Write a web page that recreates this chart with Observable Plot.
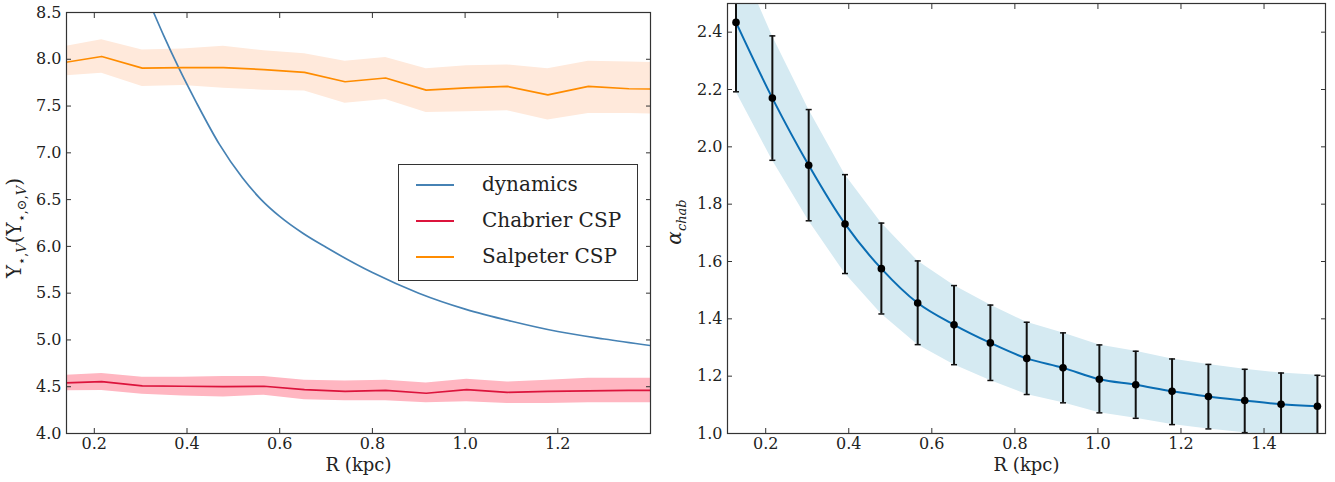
<!DOCTYPE html>
<html><head><meta charset="utf-8">
<script src="https://cdn.jsdelivr.net/npm/d3@7"></script>
<script src="https://cdn.jsdelivr.net/npm/@observablehq/plot@0.6"></script>
<style>
body{margin:0;background:#fff;}
#wrap{position:relative;width:1335px;height:482px;display:flex;}
#legend{position:absolute;left:398px;top:164px;width:240px;height:117px;border:1px solid #333;box-sizing:border-box;background:#fff;font-family:"DejaVu Serif","Liberation Serif","Noto Serif",serif;font-size:20px;color:#222;}
.row{position:absolute;left:0;height:30px;}
.sw{position:absolute;left:17px;width:38px;height:2px;}
.lt{position:absolute;left:83px;white-space:nowrap;line-height:30px;top:-16px;}
</style></head><body>
<div id="wrap"><div id="left"></div><div id="right"></div><div id="legend"></div></div>
<script>
// Radii (kpc)
const radius = [0.1285, 0.216, 0.3035, 0.391, 0.4785, 0.566, 0.6535, 0.741, 0.8285, 0.916, 1.0035, 1.091, 1.1785, 1.266, 1.3535, 1.441, 1.5285];

// Left panel: stellar M/L
const salpMid = [7.96, 8.03, 7.905, 7.91, 7.91, 7.89, 7.86, 7.76, 7.80, 7.67, 7.695, 7.71, 7.62, 7.71, 7.685, 7.68, 7.68];
const salpHi  = [8.13, 8.21, 8.10, 8.11, 8.14, 8.09, 8.06, 7.98, 8.02, 7.90, 7.93, 7.94, 7.90, 7.98, 7.97, 7.96, 7.96];
const salpLo  = [7.82, 7.85, 7.71, 7.72, 7.69, 7.67, 7.66, 7.53, 7.57, 7.43, 7.44, 7.45, 7.35, 7.42, 7.42, 7.41, 7.41];
const chabMid = [4.54, 4.555, 4.51, 4.505, 4.50, 4.505, 4.47, 4.45, 4.46, 4.43, 4.47, 4.44, 4.45, 4.455, 4.46, 4.46, 4.46];
const chabHi  = [4.62, 4.64, 4.60, 4.60, 4.61, 4.61, 4.57, 4.56, 4.57, 4.54, 4.58, 4.55, 4.57, 4.59, 4.59, 4.59, 4.59];
const chabLo  = [4.455, 4.46, 4.42, 4.40, 4.39, 4.41, 4.36, 4.35, 4.35, 4.33, 4.34, 4.32, 4.32, 4.33, 4.33, 4.33, 4.33];
const dynR    = [0.30, 0.328, 0.35, 0.382, 0.42, 0.47, 0.52, 0.56, 0.60, 0.65, 0.70, 0.80, 0.90, 1.00, 1.10, 1.20, 1.30, 1.40];
const dynV    = [8.83, 8.5, 8.25, 7.91, 7.54, 7.09, 6.73, 6.50, 6.32, 6.14, 5.99, 5.72, 5.50, 5.33, 5.20, 5.09, 5.01, 4.94];

// Right panel: alpha_chab
const alphaMid = [2.434, 2.170, 1.936, 1.731, 1.575, 1.455, 1.379, 1.316, 1.262, 1.229, 1.189, 1.170, 1.147, 1.129, 1.115, 1.102, 1.095];
const alphaHi  = [2.676, 2.387, 2.130, 1.903, 1.734, 1.602, 1.516, 1.448, 1.388, 1.351, 1.309, 1.287, 1.260, 1.241, 1.224, 1.211, 1.203];
const alphaLo  = [2.192, 1.953, 1.742, 1.558, 1.417, 1.310, 1.240, 1.185, 1.136, 1.107, 1.072, 1.053, 1.031, 1.016, 1.003, 0.990, 0.985];

// Ticks
const leftXTicks = [0.2, 0.4, 0.6, 0.8, 1.0, 1.2];
const leftYTicks = [4.0, 4.5, 5.0, 5.5, 6.0, 6.5, 7.0, 7.5, 8.0, 8.5];
const rightXTicks = [0.2, 0.4, 0.6, 0.8, 1.0, 1.2, 1.4];
const rightYTicks = [1.0, 1.2, 1.4, 1.6, 1.8, 2.0, 2.2, 2.4];

const legendItems = [
  {label: "dynamics", color: "#4682b4"},
  {label: "Chabrier CSP", color: "#dc143c"},
  {label: "Salpeter CSP", color: "#ff8c00"}
];

const salp = radius.map((r, i) => ({r, v: salpMid[i], lo: salpLo[i], hi: salpHi[i]}));
const chab = radius.map((r, i) => ({r, v: chabMid[i], lo: chabLo[i], hi: chabHi[i]}));
const dyn = dynR.map((r, i) => ({r, v: dynV[i]}));
const alpha = radius.map((r, i) => ({r, v: alphaMid[i], lo: alphaLo[i], hi: alphaHi[i]}));

const fmt = d3.format(".1f");
const font = "'DejaVu Serif', 'Liberation Serif', 'Noto Serif', serif";
const ink = "#222";

function axes(xt, yt) {
  const blank = () => "";
  return [
    Plot.axisX({ticks: xt, anchor: "bottom", tickSize: 0, tickPadding: 4, tickFormat: fmt, label: null, fontSize: 16}),
    Plot.axisX({ticks: xt, anchor: "bottom", tickSize: -5, tickFormat: blank, label: null, stroke: "#333"}),
    Plot.axisX({ticks: xt, anchor: "top", tickSize: -5, tickFormat: blank, label: null, stroke: "#333"}),
    Plot.axisY({ticks: yt, anchor: "left", tickSize: 0, tickPadding: 5, tickFormat: fmt, label: null, fontSize: 16}),
    Plot.axisY({ticks: yt, anchor: "left", tickSize: -5, tickFormat: blank, label: null, stroke: "#333"}),
    Plot.axisY({ticks: yt, anchor: "right", tickSize: -5, tickFormat: blank, label: null, stroke: "#333"}),
    Plot.frame({stroke: "#333", strokeWidth: 1.2})
  ];
}

const left = Plot.plot({
  width: 660, height: 482,
  marginLeft: 66, marginRight: 10, marginTop: 12, marginBottom: 49,
  style: {fontFamily: font, fontSize: "16px", color: ink, background: "white", overflow: "visible"},
  x: {domain: [0.14, 1.40]},
  y: {domain: [4.0, 8.5]},
  marks: [
    Plot.areaY(salp, {x: "r", y1: "lo", y2: "hi", fill: "#ffe9db", clip: true}),
    Plot.areaY(chab, {x: "r", y1: "lo", y2: "hi", fill: "#ffb6c1", clip: true}),
    Plot.line(dyn, {x: "r", y: "v", stroke: legendItems[0].color, strokeWidth: 1.7, curve: "monotone-x", clip: true}),
    Plot.line(chab, {x: "r", y: "v", stroke: legendItems[1].color, strokeWidth: 1.7, clip: true}),
    Plot.line(salp, {x: "r", y: "v", stroke: legendItems[2].color, strokeWidth: 1.7, clip: true}),
    ...axes(leftXTicks, leftYTicks),
    Plot.text(["R (kpc)"], {frameAnchor: "bottom", dy: 37, fontSize: 18, fill: ink})
  ]
});

const capSymbol = {draw(ctx) { ctx.moveTo(-3, 0); ctx.lineTo(3, 0); }};

const right = Plot.plot({
  width: 675, height: 482,
  marginLeft: 67, marginRight: 10, marginTop: 3, marginBottom: 49,
  style: {fontFamily: font, fontSize: "16px", color: ink, background: "white", overflow: "visible"},
  x: {domain: [0.108, 1.548]},
  y: {domain: [1.0, 2.5]},
  marks: [
    Plot.areaY(alpha, {x: "r", y1: "lo", y2: "hi", fill: "#d5eaf2", clip: true}),
    Plot.line(alpha, {x: "r", y: "v", stroke: "#0a6db3", strokeWidth: 2, curve: "catmull-rom", clip: true}),
    Plot.ruleX(alpha, {x: "r", y1: "lo", y2: "hi", stroke: "#111", strokeWidth: 2, clip: true}),
    Plot.dot(alpha, {x: "r", y: "hi", symbol: capSymbol, r: 3, fill: "none", stroke: "#111", strokeWidth: 1.5, clip: true}),
    Plot.dot(alpha, {x: "r", y: "lo", symbol: capSymbol, r: 3, fill: "none", stroke: "#111", strokeWidth: 1.5, clip: true}),
    Plot.dot(alpha, {x: "r", y: "v", r: 3.8, fill: "#000", stroke: "none", clip: true}),
    ...axes(rightXTicks, rightYTicks),
    Plot.text(["R (kpc)"], {frameAnchor: "bottom", dy: 37, fontSize: 18, fill: ink})
  ]
});

document.getElementById("left").appendChild(left);
document.getElementById("right").appendChild(right);

// Y-axis titles with sub-scripts
function yTitle(svg, x, y, parts) {
  const t = d3.select(svg).append("text")
    .attr("transform", `translate(${x},${y}) rotate(-90)`)
    .attr("text-anchor", "middle")
    .attr("fill", ink)
    .style("font-family", font);
  for (const p of parts) {
    t.append("tspan").text(p.t)
      .attr("font-size", p.sub ? 13 : 20)
      .attr("font-style", p.it ? "italic" : null)
      .attr("dy", p.dy || 0);
  }
}
yTitle(left, 21, 228, [
  {t: "Υ"}, {t: "⋆,", sub: true, dy: 5}, {t: "V", sub: true, it: true}, {t: "(", dy: -5},
  {t: "Υ"}, {t: "⋆,⊙,", sub: true, dy: 5}, {t: "V", sub: true, it: true}, {t: ")", dy: -5}
]);
yTitle(right, 21, 222, [
  {t: "α", it: true}, {t: "chab", sub: true, it: true, dy: 5}
]);

// Legend
const lg = d3.select("#legend");
legendItems.forEach((d, i) => {
  const row = lg.append("div").attr("class", "row").style("top", `${20 + i * 36}px`);
  row.append("div").attr("class", "sw").style("background", d.color).style("top", "-1px");
  row.append("div").attr("class", "lt").text(d.label);
});
</script>
</body></html>
